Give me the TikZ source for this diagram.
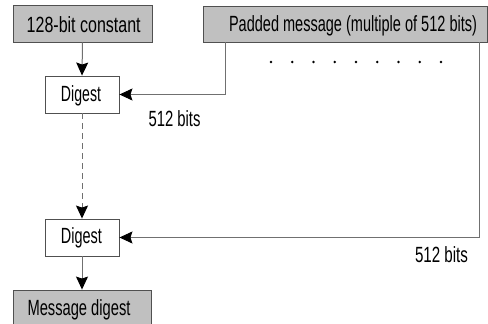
\documentclass[tikz,border=0pt]{standalone}
\usepackage{fontspec}
\usepackage{graphicx}
\setmainfont{Liberation Sans}
\usetikzlibrary{arrows.meta}
\definecolor{boxfill}{HTML}{C0C0C0}
\definecolor{boxline}{HTML}{505050}
\definecolor{conn}{HTML}{707070}
\newcommand\fitw[2]{\resizebox{#1pt}{\height}{#2}}
\begin{document}
\begin{tikzpicture}[x=1pt,y=-1pt,
  lab/.style={font=\fontsize{22}{22}\selectfont, inner sep=0pt, anchor=base},
  graybox/.style={draw=boxline, fill=boxfill, line width=0.9pt, inner sep=0pt},
  digbox/.style={draw=boxline, fill=white, line width=0.9pt, minimum width=74pt, minimum height=37pt, inner sep=0pt},
  conline/.style={draw=conn, line width=1pt},
  arr/.style={conline, -{Stealth[length=13pt,width=12pt,inset=2pt,fill=black,color=black]}},
  dot/.style={circle, fill=black, inner sep=0pt, minimum size=2.6pt}
]
\useasboundingbox (0,0) rectangle (488,324);
\clip (0,0) rectangle (488,324);
% boxes
\node[graybox, minimum width=139pt, minimum height=37pt] (const) at (82.5,23.5) {};
\node[graybox, minimum width=284pt, minimum height=36pt] (padded) at (345,24.5) {};
\node[digbox] (dig1) at (82,94.5) {};
\node[digbox] (dig2) at (82,237.5) {};
\node[graybox, minimum width=138pt, minimum height=40pt] (msg) at (82,310) {};
% texts
\node[lab] (tconst) at (83.7,32.7) {\fitw{114}{128-bit constant}};
\node[lab] (tpadded) at (353,31.5) {\fitw{248}{Padded message (multiple of 512 bits)}};
\node[lab] (tdig1) at (81,101.3) {\fitw{40}{Digest}};
\node[lab] (tdig2) at (81.5,243.8) {\fitw{41}{Digest}};
\node[lab] (tmsg) at (79,315) {\fitw{103}{Message digest}};
\node[lab] (l1) at (174.5,126.5) {\fitw{52}{512 bits}};
\node[lab] (l2) at (441.5,262) {\fitw{53}{512 bits}};
% dots
\foreach \i in {0,...,8} {
  \node[dot] (d\i) at (271+21.25*\i,62) {};
}
% connectors
\coordinate (p1) at (225,42);
\coordinate (c1) at (225,94.5);
\coordinate (p2) at (479,42);
\coordinate (c2) at (479,237.5);
\draw[arr] (const.south) -- (dig1.north);
\draw[arr] (p1) -- (c1) -- (dig1.east);
\draw[arr] (p2) -- (c2) -- (dig2.east);
\draw[arr, dash pattern=on 6pt off 4pt] (dig1.south) -- (dig2.north);
\draw[arr] (dig2.south) -- (msg.north);
\end{tikzpicture}
\end{document}
